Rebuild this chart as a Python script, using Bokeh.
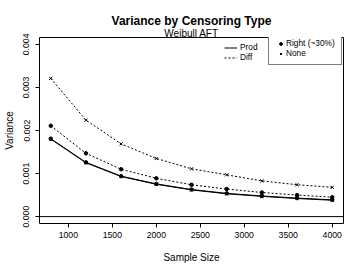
from bokeh.plotting import figure
from bokeh.models import Title, Legend, LegendItem, Span, FixedTicker, NumeralTickFormatter, Range1d
from bokeh.embed import file_html
from bokeh.resources import INLINE

sizes = [800, 1200, 1600, 2000, 2400, 2800, 3200, 3600, 4000]
prod_right = [0.00181, 0.00126, 0.00094, 0.00076, 0.00063, 0.00054, 0.00048, 0.00043, 0.00039]
prod_none = [0.00180, 0.00125, 0.00093, 0.00075, 0.00062, 0.00053, 0.00047, 0.00042, 0.00038]
diff_right = [0.00211, 0.00147, 0.00110, 0.00089, 0.00074, 0.00064, 0.00056, 0.00050, 0.00045]
diff_none = [0.00321, 0.00224, 0.00169, 0.00135, 0.00111, 0.00097, 0.00083, 0.00074, 0.00068]
x_ticks = [1000, 1500, 2000, 2500, 3000, 3500, 4000]
y_ticks = [0.0, 0.001, 0.002, 0.003, 0.004]

FONT = "Liberation Sans"

p = figure(width=360, height=270, output_backend="svg", toolbar_location=None,
           title=None,
           x_range=Range1d(672, 4128), y_range=Range1d(-0.00016, 0.00416),
           min_border_left=37, min_border_right=17, min_border_top=37, min_border_bottom=47)
p.outline_line_color = "black"
p.outline_line_width = 1
p.xgrid.visible = False
p.ygrid.visible = False
p.background_fill_color = "white"
p.border_fill_color = "white"

sub = Title(text="Weibull AFT", align="center", text_font=FONT, text_font_size="10px",
            text_font_style="normal", text_color="black", standoff=-3, offset=0)
main = Title(text="Variance by Censoring Type", align="center", text_font=FONT,
             text_font_size="12px", text_font_style="bold", text_color="black",
             standoff=0, offset=0)
p.add_layout(sub, "above")
p.add_layout(main, "above")

for ax in (p.xaxis[0], p.yaxis[0]):
    ax.axis_line_color = None
    ax.major_tick_out = 4
    ax.major_tick_in = 0
    ax.minor_tick_out = 0
    ax.minor_tick_in = 0
    ax.major_tick_line_color = "black"
    ax.major_label_text_font = FONT
    ax.major_label_text_font_size = "8.7px"
    ax.major_label_text_color = "black"
    ax.axis_label_text_font = FONT
    ax.axis_label_text_font_size = "10px"
    ax.axis_label_text_font_style = "normal"
    ax.axis_label_text_color = "black"

p.xaxis.ticker = FixedTicker(ticks=x_ticks)
p.xaxis.axis_label = "Sample Size"
p.xaxis.major_label_standoff = 4
p.xaxis.axis_label_standoff = 11

p.yaxis.ticker = FixedTicker(ticks=y_ticks)
p.yaxis.formatter = NumeralTickFormatter(format="0.000")
p.yaxis.axis_label = "Variance"
p.yaxis.major_label_orientation = "vertical"
p.yaxis.major_label_standoff = 6
p.yaxis.axis_label_standoff = 6

p.add_layout(Span(location=0, dimension="width", line_color="black", line_width=1))

prod_line = p.line(sizes, prod_right, line_color="black", line_width=1)
p.line(sizes, prod_none, line_color="black", line_width=1)
diff_line = p.line(sizes, diff_right, line_color="black", line_width=1, line_dash="2 2")
p.line(sizes, diff_none, line_color="black", line_width=1, line_dash="2 2")

dot_r = p.scatter(sizes, prod_right, marker="circle", size=3.5, fill_color="black", line_color="black")
x_r = p.scatter(sizes, prod_none, marker="x", size=4.5, line_color="black", line_width=1)
p.scatter(sizes, diff_right, marker="circle", size=3.5, fill_color="black", line_color="black")
p.scatter(sizes, diff_none, marker="x", size=4.5, line_color="black", line_width=1)

leg1 = Legend(items=[LegendItem(label="Prod", renderers=[prod_line]),
                     LegendItem(label="Diff", renderers=[diff_line])],
              location=(185, 161), padding=0, spacing=0, glyph_width=13, glyph_height=9,
              label_height=9, label_standoff=3, border_line_color=None,
              background_fill_alpha=0, label_text_font=FONT, label_text_font_size="8.3px",
              label_text_color="black", margin=0)
leg2 = Legend(items=[LegendItem(label="Right (~30%)", renderers=[dot_r]),
                     LegendItem(label="None", renderers=[x_r])],
              location=(229, 158), padding=6, spacing=0, glyph_width=11, glyph_height=7,
              label_height=7, label_standoff=0, border_line_color="black", border_line_width=1,
              background_fill_color="white", background_fill_alpha=1,
              label_text_font=FONT, label_text_font_size="8.3px", label_text_color="black",
              margin=0)
p.add_layout(leg1, "center")
p.add_layout(leg2, "center")

open("out.html", "w").write(file_html(p, INLINE))
